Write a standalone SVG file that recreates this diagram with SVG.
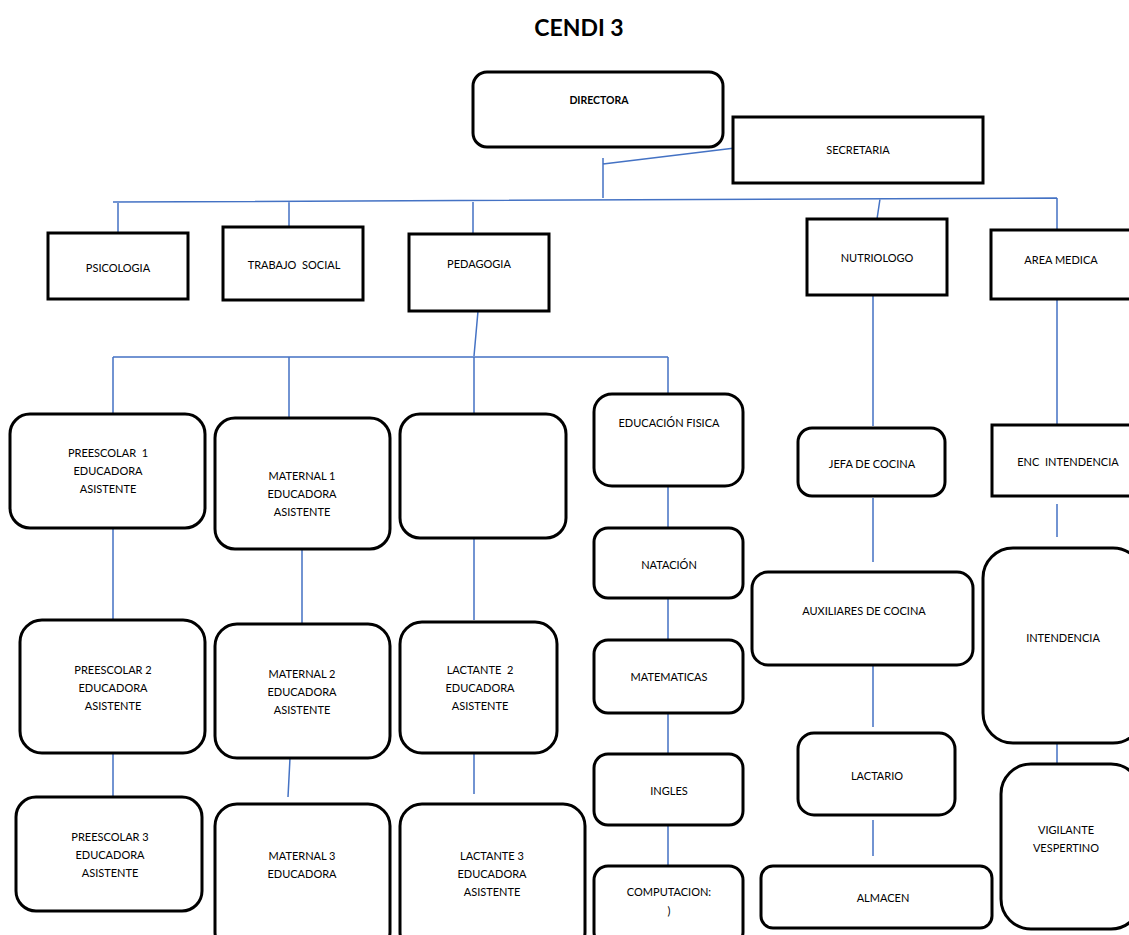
<svg xmlns="http://www.w3.org/2000/svg" width="1129" height="935" viewBox="0 0 1129 935">
<style>
.b{fill:#fff;stroke:#000;stroke-width:3}
.t{font-family:Lato,"Liberation Sans",sans-serif;font-size:11px;fill:#000;text-anchor:middle;white-space:pre}
.c{stroke:#4472C4;stroke-width:1.5;fill:none}
</style>
<rect width="1129" height="935" fill="#fff"/>
<text x="579" y="36" style="font-family:Lato,'Liberation Sans',sans-serif;font-size:23px;font-weight:bold;text-anchor:middle">CENDI 3</text>
<g id="connectors">
<path class="c" d="M603 158V198M603 164L735 148M113 202L1057 198M118 203V233M289 201V227M473 202V234M880 199L877 219M1057 198V230"/>
<path class="c" d="M478 311L474 356M113 357H668M113 357V416M289 357V420M474 357V416M668 357V396"/>
<path class="c" d="M113 528V620M302 549V624M474 538V620M113 753V800M290 758L288 797M474 747V794"/>
<path class="c" d="M668 486V528M668 598V640M668 713V754M668 825V866"/>
<path class="c" d="M873 295V426M873 498V562M873 665V727M873 820V856"/>
<path class="c" d="M1057 299V425M1057 504V537M1057 743V764"/>
</g>
<g id="directora"><rect class="b" x="473" y="72" width="250" height="75" rx="14"/><text class="t" x="599" y="104" font-weight="bold" style="font-size:10.5px">DIRECTORA</text></g>
<g id="secretaria"><rect class="b" x="733" y="117" width="250" height="66"/><text class="t" x="858" y="154">SECRETARIA</text></g>
<g id="psicologia"><rect class="b" x="48" y="233" width="140" height="66"/><text class="t" x="118" y="272">PSICOLOGIA</text></g>
<g id="trabajo-social"><rect class="b" x="223" y="227" width="140" height="73"/><text class="t" x="294" y="269" xml:space="preserve">TRABAJO  SOCIAL</text></g>
<g id="pedagogia"><rect class="b" x="409" y="234" width="140" height="77"/><text class="t" x="479" y="268">PEDAGOGIA</text></g>
<g id="nutriologo"><rect class="b" x="807" y="219" width="140" height="76"/><text class="t" x="877" y="262">NUTRIOLOGO</text></g>
<g id="area-medica"><rect class="b" x="991" y="230" width="145" height="69"/><text class="t" x="1061" y="264">AREA MEDICA</text></g>
<g id="preescolar1"><rect class="b" x="10" y="414" width="195" height="114" rx="20"/><text class="t" x="108" y="457" xml:space="preserve">PREESCOLAR  1</text><text class="t" x="108" y="475">EDUCADORA</text><text class="t" x="108" y="493">ASISTENTE</text></g>
<g id="maternal1"><rect class="b" x="215" y="418" width="175" height="131" rx="20"/><text class="t" x="302" y="480">MATERNAL 1</text><text class="t" x="302" y="498">EDUCADORA</text><text class="t" x="302" y="516">ASISTENTE</text></g>
<g id="lactante1"><rect class="b" x="400" y="414" width="166" height="124" rx="20"/></g>
<g id="educacion-fisica"><rect class="b" x="594" y="394" width="149" height="92" rx="18"/><text class="t" x="669" y="427">EDUCACIÓN FISICA</text></g>
<g id="preescolar2"><rect class="b" x="20" y="620" width="185" height="133" rx="22"/><text class="t" x="113" y="674">PREESCOLAR 2</text><text class="t" x="113" y="692">EDUCADORA</text><text class="t" x="113" y="710">ASISTENTE</text></g>
<g id="maternal2"><rect class="b" x="215" y="624" width="175" height="134" rx="22"/><text class="t" x="302" y="678">MATERNAL 2</text><text class="t" x="302" y="696">EDUCADORA</text><text class="t" x="302" y="714">ASISTENTE</text></g>
<g id="lactante2"><rect class="b" x="400" y="622" width="157" height="131" rx="22"/><text class="t" x="480" y="674" xml:space="preserve">LACTANTE  2</text><text class="t" x="480" y="692">EDUCADORA</text><text class="t" x="480" y="710">ASISTENTE</text></g>
<g id="preescolar3"><rect class="b" x="16" y="797" width="186" height="114" rx="20"/><text class="t" x="110" y="841">PREESCOLAR 3</text><text class="t" x="110" y="859">EDUCADORA</text><text class="t" x="110" y="877">ASISTENTE</text></g>
<g id="maternal3"><rect class="b" x="215" y="804" width="175" height="150" rx="22"/><text class="t" x="302" y="860">MATERNAL 3</text><text class="t" x="302" y="878">EDUCADORA</text></g>
<g id="lactante3"><rect class="b" x="400" y="804" width="185" height="150" rx="22"/><text class="t" x="492" y="860">LACTANTE 3</text><text class="t" x="492" y="878">EDUCADORA</text><text class="t" x="492" y="896">ASISTENTE</text></g>
<g id="natacion"><rect class="b" x="594" y="528" width="149" height="70" rx="14"/><text class="t" x="669" y="569">NATACIÓN</text></g>
<g id="matematicas"><rect class="b" x="594" y="640" width="149" height="73" rx="14"/><text class="t" x="669" y="681">MATEMATICAS</text></g>
<g id="ingles"><rect class="b" x="594" y="754" width="149" height="71" rx="14"/><text class="t" x="669" y="795">INGLES</text></g>
<g id="computacion"><rect class="b" x="594" y="866" width="149" height="80" rx="14"/><text class="t" x="669" y="896">COMPUTACION:</text><text class="t" x="669" y="915">)</text></g>
<g id="jefa-cocina"><rect class="b" x="798" y="428" width="147" height="68" rx="14"/><text class="t" x="872" y="468">JEFA DE COCINA</text></g>
<g id="auxiliares-cocina"><rect class="b" x="752" y="572" width="221" height="93" rx="16"/><text class="t" x="864" y="615">AUXILIARES DE COCINA</text></g>
<g id="lactario"><rect class="b" x="798" y="733" width="157" height="82" rx="16"/><text class="t" x="877" y="780">LACTARIO</text></g>
<g id="almacen"><rect class="b" x="761" y="866" width="231" height="62" rx="12"/><text class="t" x="883" y="902">ALMACEN</text></g>
<g id="enc-intendencia"><rect class="b" x="992" y="425" width="150" height="71"/><text class="t" x="1068" y="466" xml:space="preserve">ENC  INTENDENCIA</text></g>
<g id="intendencia"><rect class="b" x="983" y="548" width="160" height="195" rx="30"/><text class="t" x="1063" y="642">INTENDENCIA</text></g>
<g id="vigilante"><rect class="b" x="1001" y="764" width="140" height="165" rx="30"/><text class="t" x="1066" y="834">VIGILANTE</text><text class="t" x="1066" y="852">VESPERTINO</text></g>
</svg>
